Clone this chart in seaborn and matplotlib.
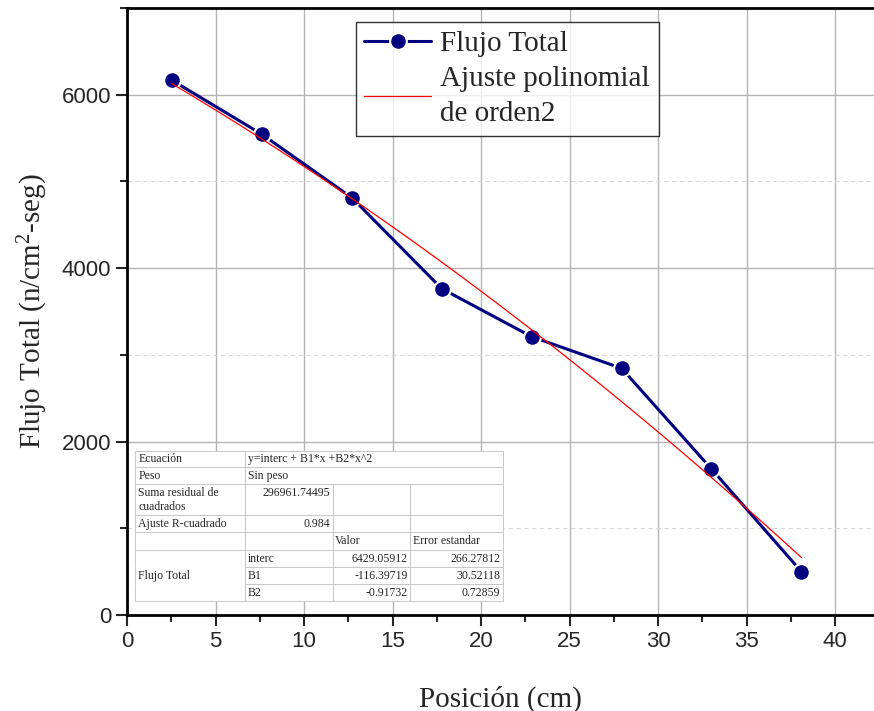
import numpy as np
import pandas as pd
import seaborn as sns
import matplotlib.pyplot as plt
from matplotlib.patches import Rectangle
from matplotlib.ticker import MultipleLocator

# datos medidos
posicion = [2.54, 7.62, 12.70, 17.78, 22.86, 27.94, 33.02, 38.10]
flujo = [6167, 5544, 4813, 3764, 3210, 2845, 1684, 500]

# coeficientes del ajuste (tabla)
interc = 6429.05912
b1 = -116.39719
b2 = -0.91732

tabla = [
    ["Ecuación", "y=interc + B1*x +B2*x^2", "", ""],
    ["Peso", "Sin peso", "", ""],
    ["Suma residual de\ncuadrados", "296961.74495\n", "", ""],
    ["Ajuste R-cuadrado", "0.984", "", ""],
    ["", "", "Valor", "Error estandar"],
    ["", "interc", "6429.05912", "266.27812"],
    ["Flujo Total", "B1", "-116.39719", "30.52118"],
    ["", "B2", "-0.91732", "0.72859"],
]

sns.set_style("white")
plt.rcParams['font.family'] = ['Liberation Sans', 'DejaVu Sans']
plt.rcParams['mathtext.fontset'] = 'custom'
plt.rcParams['mathtext.rm'] = 'Liberation Serif'
plt.rcParams['mathtext.it'] = 'Liberation Serif:italic'
serif = ['Liberation Serif', 'DejaVu Serif']

df = pd.DataFrame({"x": posicion, "y": flujo})
xs = np.linspace(posicion[0], posicion[-1], 100)
ajuste = pd.DataFrame({"x": xs, "y": interc + b1 * xs + b2 * xs ** 2})

fig = plt.figure(figsize=(8.74, 7.11), dpi=100)
ax = fig.add_axes([0.1453, 0.135, 0.8547, 0.8537])

sns.lineplot(data=df, x="x", y="y", ax=ax, color="#000080", lw=2.2,
             marker="o", markersize=12, markeredgecolor="white",
             markeredgewidth=1.5, label="Flujo Total", zorder=4)
sns.lineplot(data=ajuste, x="x", y="y", ax=ax, color="red", lw=0.9,
             label="Ajuste polinomial\nde orden2", zorder=4.5)

ax.set_xlim(0, 42.2)
ax.set_ylim(0, 7000)
ax.xaxis.set_major_locator(MultipleLocator(5))
ax.xaxis.set_minor_locator(MultipleLocator(2.5))
ax.yaxis.set_major_locator(MultipleLocator(2000))
ax.yaxis.set_minor_locator(MultipleLocator(1000))
ax.grid(True, which="major", color="#b4b4b4", lw=1.0)
ax.grid(True, which="minor", axis="y", color="#d8d8d8", lw=0.8, ls=(0, (4, 3)))
ax.set_axisbelow(True)

ax.tick_params(which="major", direction="out", length=8, width=1.5,
               labelsize=16, bottom=True, left=True)
ax.tick_params(which="minor", direction="out", length=5, width=1.5,
               bottom=True, left=True)
for s in ["left", "bottom", "top"]:
    ax.spines[s].set_linewidth(2)
    ax.spines[s].set_color("black")
ax.spines["right"].set_visible(False)

ax.set_xlabel("Posición (cm)", fontsize=21, family=serif, labelpad=24)
ax.set_ylabel(r"Flujo Total (n/cm$^{2}$-seg)", fontsize=21, family=serif, labelpad=8)

leg = ax.legend(loc="upper left", bbox_to_anchor=(0.306, 0.977), borderaxespad=0,
                fancybox=False, frameon=True, handlelength=2.3,
                prop={"family": serif, "size": 21}, labelspacing=0.3,
                borderpad=0.3, handletextpad=0.3)
leg.get_frame().set_edgecolor("black")
leg.get_frame().set_linewidth(1.0)
for t in leg.get_texts():
    t.set_linespacing(1.45)

# tabla de resultados del ajuste
caja = [0.0107, 0.023, 0.4926, 0.247]
ax.add_patch(Rectangle((caja[0], caja[1]), caja[2], caja[3], transform=ax.transAxes,
                       facecolor="white", edgecolor="none", zorder=5.5))
alto = [16, 17, 31, 17, 18, 17, 17, 17]
ancho = [110, 88, 77, 93]
tb = ax.table(cellText=tabla, bbox=caja, cellLoc="left", zorder=6)
tb.auto_set_font_size(False)
for (r, c), cell in tb.get_celld().items():
    cell.set_height(alto[r])
    cell.set_width(ancho[c])
    cell.set_edgecolor("#c8c8c8")
    cell.set_facecolor("none")
    cell.set_linewidth(0.7)
    cell.get_text().set_fontsize(8.5)
    cell.get_text().set_fontfamily(serif)
    cell.PAD = 0.03
    if r in (0, 1):
        cell.visible_edges = {0: "BTLR", 1: "BTL", 2: "BT", 3: "BTR"}[c]
    if c == 0 and r >= 5:
        cell.visible_edges = {5: "TLR", 6: "LR", 7: "BLR"}[r]
    txt = tabla[r][c]
    if txt and txt[0] in "-0123456789" and r > 1:
        cell._loc = "right"
        cell.get_text().set_horizontalalignment("right")

fig.savefig("out.png", dpi=100)
